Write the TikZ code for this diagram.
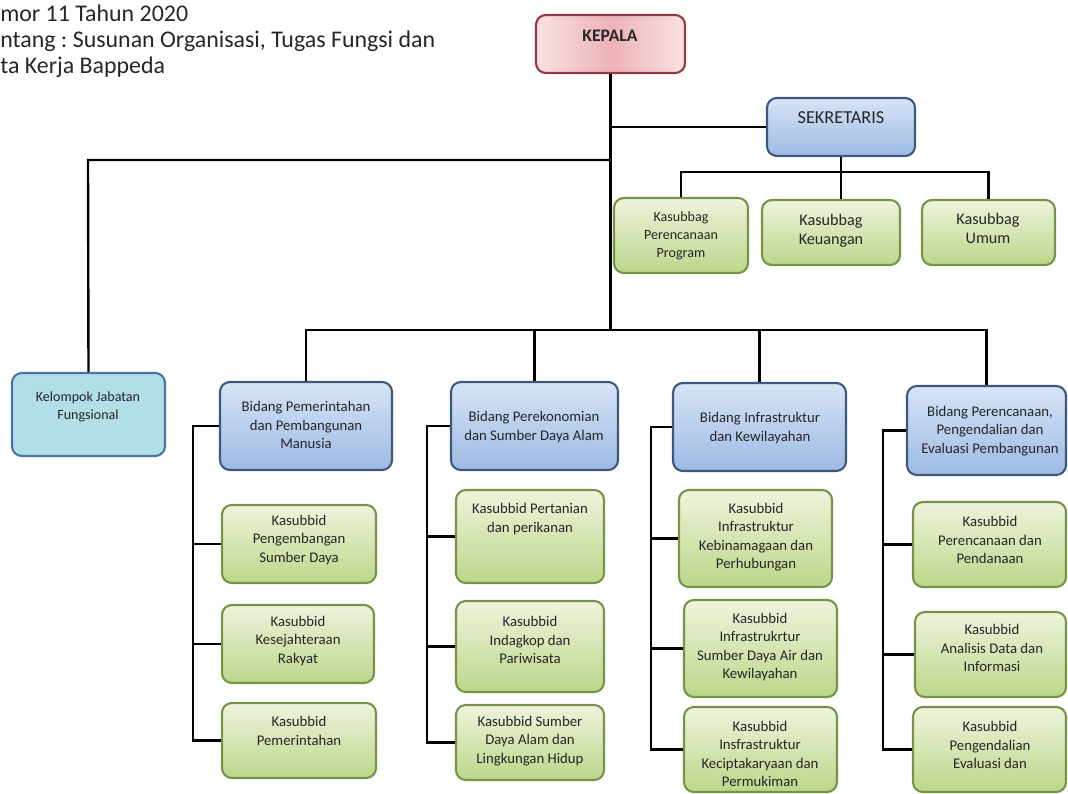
\documentclass[tikz,border=0pt]{standalone}
\usepackage{fontspec}
\setmainfont{Carlito}
\usetikzlibrary{fit}
\definecolor{kepalaline}{RGB}{150,55,65}
\definecolor{kepalain}{RGB}{236,178,184}
\definecolor{kepalaout}{RGB}{249,226,226}
\definecolor{blueline}{RGB}{62,88,125}
\definecolor{bluetop}{RGB}{214,228,246}
\definecolor{bluebot}{RGB}{158,186,228}
\definecolor{greenline}{RGB}{118,148,72}
\definecolor{greentop}{RGB}{238,244,220}
\definecolor{greenbot}{RGB}{188,214,138}
\definecolor{cyanline}{RGB}{70,118,160}
\definecolor{cyanfill}{RGB}{178,222,232}
\frenchspacing
\begin{document}
\begin{tikzpicture}[x=0.025cm, y=-0.025cm,
    kbox/.style={draw=kepalaline, line width=1.5pt, rounded corners=7pt, left color=kepalaout, right color=kepalaout, middle color=kepalain, inner sep=0pt},
    bbox/.style={draw=blueline, line width=1.5pt, rounded corners=7pt, top color=bluetop, bottom color=bluebot, inner sep=0pt},
    gbox/.style={draw=greenline, line width=1.5pt, rounded corners=7pt, top color=greentop, bottom color=greenbot, inner sep=0pt},
    cbox/.style={draw=cyanline, line width=1.5pt, rounded corners=7pt, fill=cyanfill, inner sep=0pt},
    txt/.style={align=center, inner sep=0pt, text=black!85, font=\fontsize{10.5}{13.2}\selectfont},
    link/.style={line width=1.7pt}]
        \useasboundingbox (0,0) rectangle (1068,794);
        \node [anchor=north west, align=left, inner sep=0pt, text=black!85, font=\fontsize{17}{18.2}\selectfont] (judul) at (0,5) {mor 11 Tahun 2020\\ntang : Susunan Organisasi, Tugas Fungsi dan\\ta Kerja Bappeda};

        % pimpinan dan sekretariat
        \node [kbox, fit={(536,15) (685,73)}] (kepala) {};
        \node [txt, font=\fontsize{12.5}{15}\selectfont\bfseries] (kepala-t) at (610,36) {KEPALA};
        \node [bbox, fit={(767,98) (915,156)}] (sek) {};
        \node [txt, font=\fontsize{13}{15}\selectfont] (sek-t) at (841,118) {SEKRETARIS};
        \node [gbox, fit={(614,198) (748,273)}] (kbpp) {};
        \node [txt, font=\fontsize{10}{12.8}\selectfont] (kbpp-t) at (681,236) {Kasubbag\\Perencanaan\\Program};
        \node [gbox, fit={(762,200) (900,265)}] (kbk) {};
        \node [txt, font=\fontsize{11.5}{13.5}\selectfont] (kbk-t) at (831,231) {Kasubbag\\Keuangan};
        \node [gbox, fit={(922,200) (1055,265)}] (kbu) {};
        \node [txt, font=\fontsize{11.5}{13.5}\selectfont] (kbu-t) at (988,228) {Kasubbag\\Umum};
        \node [cbox, fit={(12,373) (165,456)}] (kjf) {};
        \node [txt, font=\fontsize{10}{12.8}\selectfont] (kjf-t) at (88,407) {Kelompok Jabatan\\Fungsional};

        % bidang
        \node [bbox, fit={(220,382) (392,470)}] (bpem) {};
        \node [txt] (bpem-t) at (306,425) {Bidang Pemerintahan\\dan Pembangunan\\Manusia};
        \node [bbox, fit={(451,382) (618,470)}] (bpr) {};
        \node [txt] (bpr-t) at (534,427) {Bidang Perekonomian\\dan Sumber Daya Alam};
        \node [bbox, fit={(673,383) (846,471)}] (bik) {};
        \node [txt] (bik-t) at (760,428) {Bidang Infrastruktur\\dan Kewilayahan};
        \node [bbox, fit={(907,386) (1066,475)}] (bpp) {};
        \node [txt] (bpp-t) at (990,431) {Bidang Perencanaan,\\Pengendalian dan\\Evaluasi Pembangunan};

        % kasubbid
        \node [gbox, fit={(222,505) (376,583)}] (kpsd) {};
        \node [txt] (kpsd-t) at (299,540) {Kasubbid\\Pengembangan\\Sumber Daya};
        \node [gbox, fit={(222,605) (374,683)}] (kkr) {};
        \node [txt] (kkr-t) at (298,641) {Kasubbid\\Kesejahteraan\\Rakyat};
        \node [gbox, fit={(222,703) (376,778)}] (kpm) {};
        \node [txt] (kpm-t) at (299,731) {Kasubbid\\Pemerintahan};

        \node [gbox, fit={(456,490) (604,583)}] (kpp) {};
        \node [txt] (kpp-t) at (530,519) {Kasubbid Pertanian\\dan perikanan};
        \node [gbox, fit={(456,601) (604,692)}] (kip) {};
        \node [txt] (kip-t) at (530,640) {Kasubbid\\Indagkop dan\\Pariwisata};
        \node [gbox, fit={(456,705) (604,780)}] (ksda) {};
        \node [txt] (ksda-t) at (530,741) {Kasubbid Sumber\\Daya Alam dan\\Lingkungan Hidup};

        \node [gbox, fit={(679,490) (832,587)}] (kikp) {};
        \node [txt] (kikp-t) at (756,537) {Kasubbid\\Infrastruktur\\Kebinamagaan dan\\Perhubungan};
        \node [gbox, fit={(684,600) (837,697)}] (kisa) {};
        \node [txt] (kisa-t) at (760,647) {Kasubbid\\Infrastrukrtur\\Sumber Daya Air dan\\Kewilayahan};
        \node [gbox, fit={(684,707) (837,792)}] (kikk) {};
        \node [txt] (kikk-t) at (760,754) {Kasubbid\\Insfrastruktur\\Keciptakaryaan dan\\Permukiman};

        \node [gbox, fit={(913,502) (1066,587)}] (kppd) {};
        \node [txt] (kppd-t) at (990,540) {Kasubbid\\Perencanaan dan\\Pendanaan};
        \node [gbox, fit={(915,612) (1066,697)}] (kadi) {};
        \node [txt] (kadi-t) at (992,648) {Kasubbid\\Analisis Data dan\\Informasi};
        \node [gbox, fit={(913,707) (1066,792)}] (kpe) {};
        \node [txt] (kpe-t) at (990,745) {Kasubbid\\Pengendalian\\Evaluasi dan};

        % garis
        \coordinate (bar) at (0,330);
        \coordinate (kjf-knee) at (88,160);
        \coordinate (sek-bar) at (0,172);
        \draw [link] (kepala.south) -- (kepala.south |- bar);
        \draw [link] (sek.west) -- (sek.west -| kepala.south);
        \draw [link] (kjf-knee -| kepala.south) -- (kjf-knee) -- (kjf.north);
        \draw [link] (sek.south) -- (sek.south |- kbk.north);
        \draw [link] (kbpp.north) -- (kbpp.north |- sek-bar) -- (kbu.north |- sek-bar) -- (kbu.north);
        \draw [link] (bpem.north) -- (bpem.north |- bar) -- (bpp.north |- bar) -- (bpp.north);
        \draw [link] (bpr.north) -- (bpr.north |- bar);
        \draw [link] (bik.north) -- (bik.north |- bar);

        \coordinate (rail1) at (193,0);
        \draw [link] (bpem.west) -- (bpem.west -| rail1) |- (kpm.west);
        \draw [link] (kpsd.west) -- (kpsd.west -| rail1);
        \draw [link] (kkr.west) -- (kkr.west -| rail1);
        \coordinate (rail2) at (427,0);
        \draw [link] (bpr.west) -- (bpr.west -| rail2) |- (ksda.west);
        \draw [link] (kpp.west) -- (kpp.west -| rail2);
        \draw [link] (kip.west) -- (kip.west -| rail2);
        \coordinate (rail3) at (651,0);
        \draw [link] (bik.west) -- (bik.west -| rail3) |- (kikk.west);
        \draw [link] (kikp.west) -- (kikp.west -| rail3);
        \draw [link] (kisa.west) -- (kisa.west -| rail3);
        \coordinate (rail4) at (883,0);
        \draw [link] (bpp.west) -- (bpp.west -| rail4) |- (kpe.west);
        \draw [link] (kppd.west) -- (kppd.west -| rail4);
        \draw [link] (kadi.west) -- (kadi.west -| rail4);
    \end{tikzpicture}
\end{document}
